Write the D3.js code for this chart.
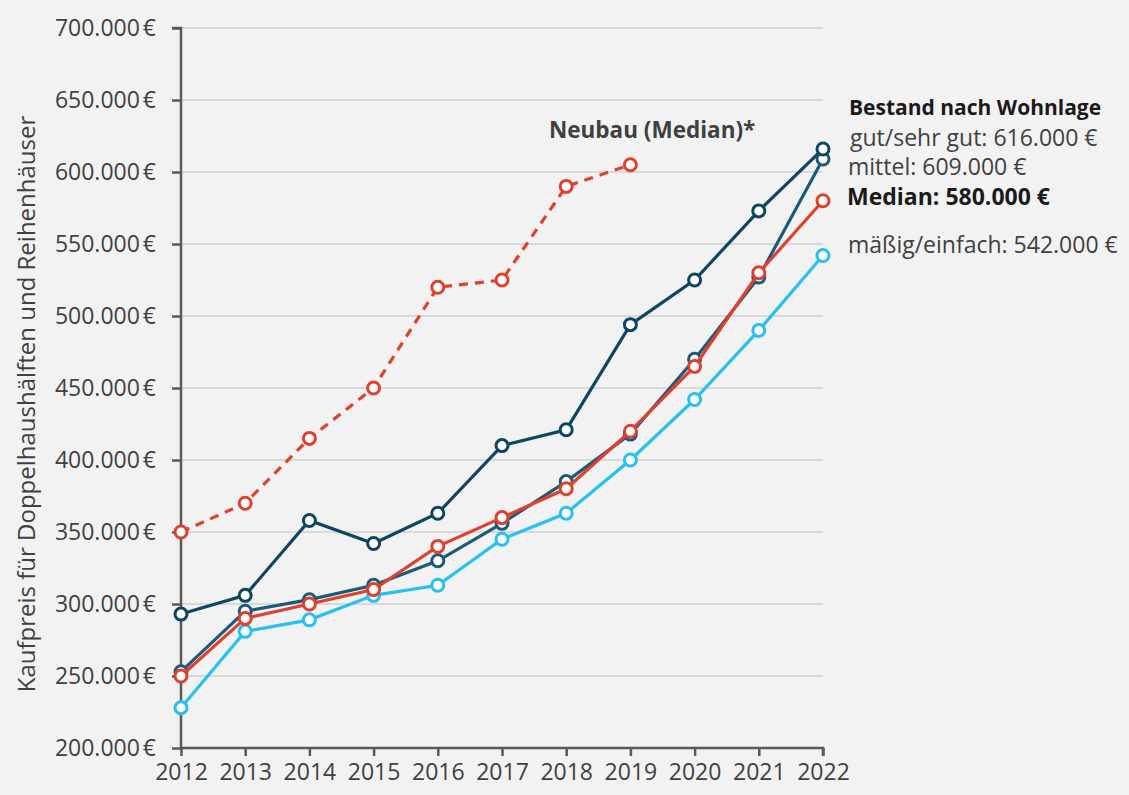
<!DOCTYPE html>
<html>
<head>
<meta charset="utf-8">
<script src="https://cdn.jsdelivr.net/npm/d3@7"></script>
<style>
  body { margin: 0; background: #f2f2f2; }
  svg text { font-family: "Open Sans", Lato, sans-serif; }
</style>
</head>
<body>
<svg id="chart"></svg>
<script>
const years = [2012, 2013, 2014, 2015, 2016, 2017, 2018, 2019, 2020, 2021, 2022];
const gutSehrGut = [293000, 306000, 358000, 342000, 363000, 410000, 421000, 494000, 525000, 573000, 616000];
const mittel = [253000, 295000, 303000, 313000, 330000, 356000, 385000, 418000, 470000, 527000, 609000];
const median = [250000, 290000, 300000, 310000, 340000, 360000, 380000, 420000, 465000, 530000, 580000];
const maessig = [228000, 281000, 289000, 306000, 313000, 345000, 363000, 400000, 442000, 490000, 542000];
const neubauYears = [2012, 2013, 2014, 2015, 2016, 2017, 2018, 2019];
const neubau = [350000, 370000, 415000, 450000, 520000, 525000, 590000, 605000];
const yTicks = [200000, 250000, 300000, 350000, 400000, 450000, 500000, 550000, 600000, 650000, 700000];

const legendLines = [
  {text: 'Bestand nach Wohnlage', bold: true, size: 21, y: 115, x: 849},
  {text: 'gut/sehr gut: 616.000 €', bold: false, size: 23, y: 146, x: 850},
  {text: 'mittel: 609.000 €', bold: false, size: 23, y: 175, x: 848},
  {text: 'Median: 580.000 €', bold: true, size: 23, y: 205, x: 847},
  {text: 'mäßig/einfach: 542.000 €', bold: false, size: 23, y: 253, x: 848}
];

const width = 1129, height = 795;
const margin = {top: 28, right: 306, bottom: 47, left: 181};

const svg = d3.select('#chart')
  .attr('width', width)
  .attr('height', height);

svg.append('rect').attr('width', width).attr('height', height).attr('fill', '#f2f2f2');

const chart = svg.append('g')
  .attr('transform', `translate(${margin.left},${margin.top})`);

const w = width - margin.left - margin.right;
const h = height - margin.top - margin.bottom;

const xScale = d3.scaleLinear().domain([2012, 2022]).range([0, w]);
const yScale = d3.scaleLinear().domain([200000, 700000]).range([h, 0]);

const fmt = d => d3.format(',')(d).replace(/,/g, '.') + '\u202f€';

// gridlines
chart.append('g')
  .selectAll('line')
  .data(yTicks.filter(d => d > 200000))
  .join('line')
  .attr('x1', 0)
  .attr('x2', w)
  .attr('y1', d => yScale(d))
  .attr('y2', d => yScale(d))
  .attr('stroke', '#d9d9d9')
  .attr('stroke-width', 2);

// axes
const yAxis = d3.axisLeft(yScale).tickValues(yTicks).tickFormat(fmt).tickSize(9).tickPadding(16);
const xAxis = d3.axisBottom(xScale).tickValues(years).tickFormat(d3.format('d')).tickSize(8).tickPadding(8);

const yAxisG = chart.append('g').call(yAxis);
const xAxisG = chart.append('g').attr('transform', `translate(0,${h})`).call(xAxis);

[yAxisG, xAxisG].forEach(g => {
  g.attr('font-family', null).attr('font-size', null);
  g.select('.domain').attr('stroke', '#595959').attr('stroke-width', 2.5);
  g.selectAll('.tick line').attr('stroke', '#595959').attr('stroke-width', 2.5);
  g.selectAll('.tick text').attr('fill', '#404040').style('font-size', '23px');
});
yAxisG.select('.domain').attr('d', `M-9,0H0V${h}`);
xAxisG.select('.domain').attr('d', `M0,0H${w}V8`);

// y axis title
svg.append('text')
  .attr('transform', `translate(35,${margin.top + h / 2 + 16}) rotate(-90)`)
  .attr('text-anchor', 'middle')
  .attr('fill', '#404040')
  .style('font-size', '24px')
  .text('Kaufpreis für Doppelhaushälften und Reihenhäuser');

const series = [
  {name: 'maessig', x: years, values: maessig, color: '#27c0f0', dash: null},
  {name: 'mittel', x: years, values: mittel, color: '#1b5a78', dash: null},
  {name: 'median', x: years, values: median, color: '#e0402e', dash: null},
  {name: 'gut', x: years, values: gutSehrGut, color: '#0e4661', dash: null},
  {name: 'neubau', x: neubauYears, values: neubau, color: '#e0402e', dash: '9,7'}
];

const line = d3.line()
  .x(d => xScale(d[0]))
  .y(d => yScale(d[1]));

series.forEach(s => {
  const pts = s.x.map((yr, i) => [yr, s.values[i]]);
  const g = chart.append('g').attr('class', 'series-' + s.name);
  g.append('path')
    .datum(pts)
    .attr('d', line)
    .attr('fill', 'none')
    .attr('stroke', s.color)
    .attr('stroke-width', 3.2)
    .attr('stroke-dasharray', s.dash);
  g.selectAll('circle')
    .data(pts)
    .join('circle')
    .attr('cx', d => xScale(d[0]))
    .attr('cy', d => yScale(d[1]))
    .attr('r', 6)
    .attr('fill', '#ffffff')
    .attr('stroke', s.color)
    .attr('stroke-width', 3);
});

// labels
svg.append('text')
  .attr('x', 549)
  .attr('y', 138)
  .attr('fill', '#404040')
  .style('font-size', '22.5px')
  .style('font-weight', 'bold')
  .text('Neubau (Median)*');

svg.append('g')
  .selectAll('text')
  .data(legendLines)
  .join('text')
  .attr('x', d => d.x)
  .attr('y', d => d.y)
  .attr('fill', d => d.bold ? '#1a1a1a' : '#404040')
  .style('font-size', d => d.size + 'px')
  .style('font-weight', d => d.bold ? 'bold' : 'normal')
  .text(d => d.text);
</script>
</body>
</html>
